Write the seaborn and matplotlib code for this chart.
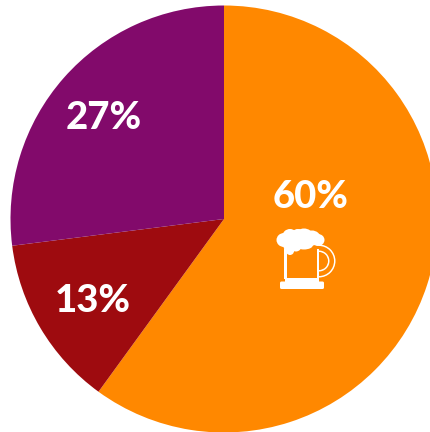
import matplotlib
matplotlib.use("Agg")
import matplotlib.pyplot as plt
from matplotlib.patches import Rectangle, Ellipse, Wedge, FancyBboxPatch
import seaborn as sns

sns.set_theme(style="white")
plt.rcParams['font.family'] = ['Lato', 'DejaVu Sans']

shares = [60, 13, 27]
labels = ["60%", "13%", "27%"]
colors = ["#FF8800", "#9E0B0F", "#820A6B"]
label_xy = [(311, 196.5), (92.5, 300.5), (103.5, 117.5)]

W, H = 431, 432
fig = plt.figure(figsize=(W / 100, H / 100), dpi=100)
ax = fig.add_axes([0, 0, 1, 1])


def flip(y):
    """Convert a top-down pixel row to the axes' upward y."""
    return H - y


# Pie in pixel-sized data units, clockwise from twelve o'clock
ax.pie(shares, colors=colors, startangle=90, counterclock=False,
       center=(224, flip(219)), radius=213.5,
       wedgeprops=dict(linewidth=0))
ax.set_xlim(0, W)
ax.set_ylim(0, H)
ax.set_aspect("equal")
ax.axis("off")

for text, (x, y) in zip(labels, label_xy):
    ax.text(x, flip(y), text, color="white", fontsize=27.5, fontweight="black",
            ha="center", va="center")

# Beer mug icon
white = "white"

# Handle: two concentric half rings
ax.add_patch(Wedge((319, flip(261)), 16.5, -90, 90, width=1.5, color=white, lw=0))
ax.add_patch(Wedge((319, flip(261)), 10.5, -90, 90, width=1.5, color=white, lw=0))

# Glass walls and base
ax.add_patch(Rectangle((284.5, flip(279)), 2.5, 30, color=white, lw=0))
ax.add_patch(Rectangle((317, flip(279)), 2.5, 30, color=white, lw=0))
ax.add_patch(FancyBboxPatch((280.5, flip(288.5)), 43, 6.5,
                            boxstyle="round,pad=0.5,rounding_size=1.5",
                            color=white, lw=0))
ax.add_patch(Rectangle((285, flip(283)), 34, 5, color=white, lw=0))

# Foam head built from overlapping puffs
foam = [(284, 240, 15, 14), (290, 236, 15, 14), (298, 238, 17, 18),
        (304, 235, 17, 13), (312, 238, 17, 15), (318, 240, 13, 12),
        (290, 246, 13, 14), (296, 246, 11, 11), (304, 245, 18, 9),
        (290, 251, 8, 8), (321, 239, 5, 6)]
for x, y, w, h in foam:
    ax.add_patch(Ellipse((x, flip(y)), w, h, color=white, lw=0))

fig.savefig("out.png", dpi=100)
